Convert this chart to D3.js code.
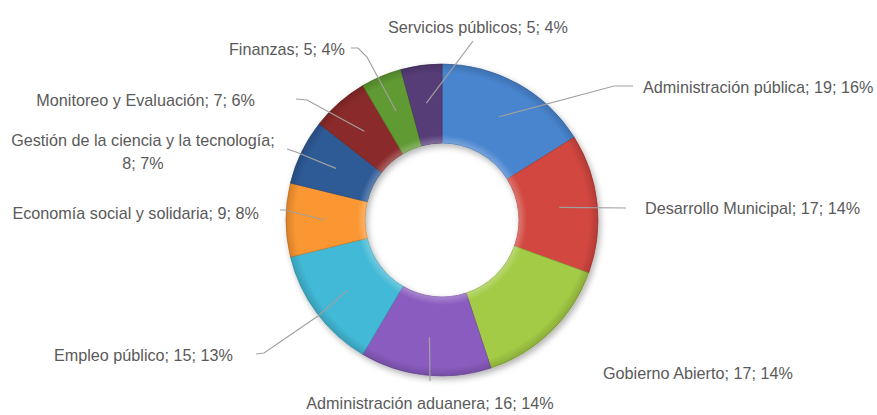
<!DOCTYPE html>
<html>
<head>
<meta charset="utf-8">
<script src="https://cdn.jsdelivr.net/npm/d3@7/dist/d3.min.js"></script>
<style>
  html, body { margin: 0; padding: 0; background: #ffffff; }
  svg { display: block; }
  text { font-family: "Liberation Sans", "DejaVu Sans", sans-serif; fill: #5a5a5a; }
</style>
</head>
<body>
<svg id="chart" width="877" height="415"></svg>
<script>
// ---- Data ----
const categories = [
  "Administración pública",
  "Desarrollo Municipal",
  "Gobierno Abierto",
  "Administración aduanera",
  "Empleo público",
  "Economía social y solidaria",
  "Gestión de la ciencia y la tecnología",
  "Monitoreo y Evaluación",
  "Finanzas",
  "Servicios públicos"
];
const values = [19, 17, 17, 16, 15, 9, 8, 7, 5, 5];
const percentLabels = ["16%", "14%", "14%", "14%", "13%", "8%", "7%", "6%", "4%", "4%"];

// ---- Styles ----
const colors = ["#4a85cf", "#d2463f", "#a3cb45", "#8a5cc0", "#42b9d6", "#fb9732",
                "#2d5a96", "#8b2b2a", "#5f9a30", "#573c78"];

// ---- Layout (label placement) ----
const labelLayout = [
  { anchor: "start",  x: 643, y: 87,  leader: [[614, 86], [633, 86]] },
  { anchor: "start",  x: 645, y: 208, leader: [[626, 208]] },
  { anchor: "start",  x: 603, y: 373, leader: null },
  { anchor: "middle", x: 430, y: 403, leader: [[430, 381]] },
  { anchor: "end",    x: 233, y: 355, leader: [[318, 316], [264, 353], [256, 354]] },
  { anchor: "end",    x: 259, y: 213, leader: [[285, 210], [280, 210]] },
  { anchor: "middle", x: 143, y: 140, leader: [[296, 152], [287, 149]], split: true },
  { anchor: "end",    x: 255, y: 100, leader: [[307, 100], [296, 99]] },
  { anchor: "end",    x: 345, y: 49,  leader: [[367, 57], [358, 48], [351, 48]] },
  { anchor: "start",  x: 388, y: 27,  leader: [[473, 41]] }
];

const cx = 442, cy = 220, outerR = 156, innerR = 77, centroidR = 118;

const svg = d3.select("#chart");
const defs = svg.append("defs");
const f = defs.append("filter").attr("id", "shadow")
  .attr("x", "-20%").attr("y", "-20%").attr("width", "140%").attr("height", "140%");
f.append("feDropShadow").attr("dx", 2).attr("dy", 3).attr("stdDeviation", 3)
  .attr("flood-color", "#000").attr("flood-opacity", 0.3);

// bevel-ish highlight gradient (coordinates relative to ring centre)
const rg = defs.append("radialGradient").attr("id", "bevel")
  .attr("gradientUnits", "userSpaceOnUse")
  .attr("cx", 0).attr("cy", 0).attr("r", outerR);
rg.append("stop").attr("offset", innerR / outerR).attr("stop-color", "#ffffff").attr("stop-opacity", 0.25);
rg.append("stop").attr("offset", (innerR + 8) / outerR).attr("stop-color", "#ffffff").attr("stop-opacity", 0.0);
rg.append("stop").attr("offset", 0.94).attr("stop-color", "#000000").attr("stop-opacity", 0.0);
rg.append("stop").attr("offset", 1).attr("stop-color", "#000000").attr("stop-opacity", 0.15);

const data = categories.map((c, i) => ({ name: c, value: values[i], pct: percentLabels[i], i }));

const pie = d3.pie().sort(null).value(d => d.value).startAngle(0).endAngle(2 * Math.PI);
const arcs = pie(data);
const arc = d3.arc().innerRadius(innerR).outerRadius(outerR);
const midArc = d3.arc().innerRadius(centroidR).outerRadius(centroidR);

const g = svg.append("g").attr("transform", `translate(${cx},${cy})`);
const ring = g.append("g").attr("filter", "url(#shadow)");
ring.selectAll("path.slice").data(arcs).enter().append("path")
  .attr("class", "slice")
  .attr("d", arc)
  .attr("fill", d => colors[d.data.i])
  .attr("stroke", d => d3.color(colors[d.data.i]).darker(0.6))
  .attr("stroke-width", 0.7);
g.selectAll("path.bevel").data(arcs).enter().append("path")
  .attr("class", "bevel")
  .attr("d", arc)
  .attr("fill", "url(#bevel)");

// leader lines
const lineGen = d3.line();
arcs.forEach((d, k) => {
  const lay = labelLayout[k];
  if (!lay.leader) return;
  const c = midArc.centroid(d);
  const pts = [[cx + c[0], cy + c[1]]].concat(lay.leader);
  svg.append("path")
    .attr("d", lineGen(pts))
    .attr("fill", "none")
    .attr("stroke", "#a0a0a0")
    .attr("stroke-width", 1.2);
});

// labels
arcs.forEach((d, k) => {
  const lay = labelLayout[k];
  const txt = `${d.data.name}; ${d.data.value}; ${d.data.pct}`;
  const t = svg.append("text")
    .attr("x", lay.x).attr("y", lay.y)
    .attr("text-anchor", lay.anchor)
    .attr("dominant-baseline", "central")
    .attr("font-size", "16.2px");
  if (lay.split) {
    t.append("tspan").attr("x", lay.x).text(`${d.data.name};`);
    t.append("tspan").attr("x", lay.x).attr("dy", 23).text(`${d.data.value}; ${d.data.pct}`);
  } else {
    t.text(txt);
  }
});
</script>
</body>
</html>
